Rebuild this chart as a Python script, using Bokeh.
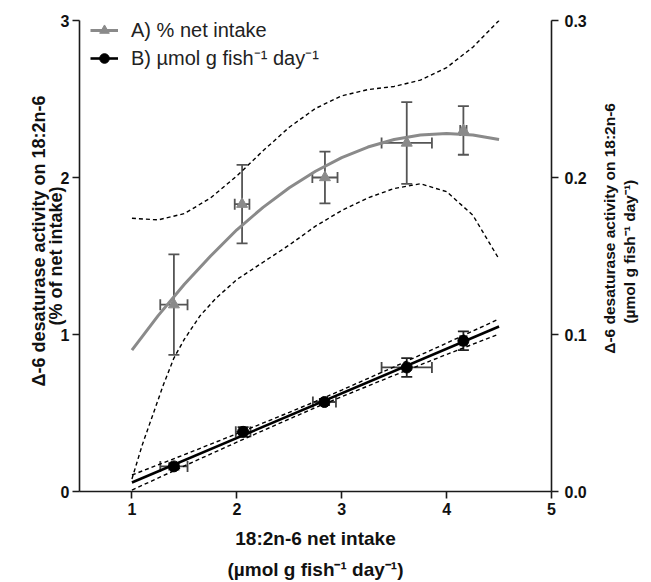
import math
from bokeh.plotting import figure
from bokeh.models import (Range1d, LinearAxis, FixedTicker, PrintfTickFormatter, Whisker,
                          TeeHead, ColumnDataSource, Legend, LegendItem)
from bokeh.embed import file_html
from bokeh.resources import INLINE

# ---------------- data ----------------
x_ticks = [1, 2, 3, 4, 5]
yl_ticks = [0, 1, 2, 3]
yr_ticks = [0.0, 0.1, 0.2, 0.3]

# A) % of net intake (left axis)
xA = [1.40, 2.05, 2.84, 3.62, 4.16]
xerrA = [0.13, 0.07, 0.12, 0.24, 0.03]
yA = [1.19, 1.83, 2.00, 2.22, 2.30]
yerrA = [0.32, 0.25, 0.165, 0.26, 0.155]

# fitted curve A and its 95% band
fitA_x = [1.0, 1.25, 1.5, 1.75, 2.0, 2.25, 2.5, 2.75, 3.0, 3.25, 3.5, 3.75, 4.0, 4.25, 4.5]
fitA_y = [0.90, 1.12, 1.32, 1.50, 1.667, 1.81, 1.935, 2.04, 2.127, 2.194, 2.242, 2.271, 2.281, 2.271, 2.242]
bandA_upper = [1.74, 1.73, 1.77, 1.87, 2.01, 2.17, 2.32, 2.44, 2.52, 2.56, 2.58, 2.62, 2.70, 2.83, 3.00]
bandA_lower_x = [1.0, 1.1, 1.2, 1.3, 1.4, 1.5, 1.65, 1.8, 2.0, 2.25, 2.5, 2.75, 3.0, 3.25, 3.5,
                 3.75, 4.0, 4.25, 4.5]
bandA_lower = [0.08, 0.30, 0.49, 0.68, 0.85, 0.97, 1.12, 1.23, 1.35, 1.46, 1.57, 1.69, 1.79, 1.87,
               1.93, 1.96, 1.91, 1.76, 1.48]

# B) umol g fish-1 day-1 (right axis)
xB = [1.40, 2.06, 2.835, 3.62, 4.16]
xerrB = [0.13, 0.07, 0.11, 0.24, 0.03]
yB = [0.016, 0.038, 0.057, 0.079, 0.096]
yerrB = [0.002, 0.003, 0.002, 0.006, 0.006]

fitB_x = [1.0, 4.5]
fitB_y = [0.0057, 0.1051]
bandB_x = [1.0, 1.5, 2.0, 2.5, 2.75, 3.0, 3.5, 4.0, 4.5]
bandB_upper = [0.0105, 0.0235, 0.0368, 0.0504, 0.0574, 0.0646, 0.0794, 0.0945, 0.1099]
bandB_lower = [0.0009, 0.0163, 0.0314, 0.0462, 0.0534, 0.0604, 0.0740, 0.0873, 0.1003]

label_A = "A) % net intake"
label_B = "B) \u00b5mol g fish\u207b\u00b9 day\u207b\u00b9"
xlabel1 = "18:2n-6 net intake"
xlabel2 = "(\u00b5mol g fish\u207b\u00b9 day\u207b\u00b9)"
ylabel1 = "\u0394-6 desaturase activity on 18:2n-6"
ylabel2 = "(% of net intake)"
rlabel2 = "(\u00b5mol g fish\u207b\u00b9 day\u207b\u00b9)"

# ---------------- figure ----------------
FONT = "Liberation Sans"
GRAY = "#8a8a8a"
AX = "#1a1a1a"
TXT = "#111111"
NB = "\u00a0"

p = figure(width=651, height=582, output_backend="svg", toolbar_location=None,
           x_range=Range1d(0.5, 5), y_range=Range1d(0, 3),
           min_border_left=79, min_border_right=100, min_border_top=20, min_border_bottom=90)
p.extra_y_ranges = {"r": Range1d(0, 0.3)}
p.grid.visible = False
p.outline_line_color = None
p.background_fill_color = "white"
p.border_fill_color = "white"

right = LinearAxis(y_range_name="r")
p.add_layout(right, "right")

for ax in [p.xaxis[0], p.yaxis[0], right]:
    ax.axis_line_color = AX
    ax.axis_line_width = 1.6
    ax.major_tick_line_color = AX
    ax.major_tick_line_width = 1.6
    ax.major_tick_in = 0
    ax.major_tick_out = 7
    ax.minor_tick_line_color = None
    ax.major_label_text_font = FONT
    ax.major_label_text_font_style = "bold"
    ax.major_label_text_font_size = "16px"
    ax.major_label_text_color = TXT
    ax.axis_label_text_font = FONT
    ax.axis_label_text_font_style = "bold"
    ax.axis_label_text_font_size = "18px"
    ax.axis_label_text_color = TXT

p.xaxis[0].ticker = FixedTicker(ticks=x_ticks)
p.xaxis[0].major_label_standoff = 4
p.xaxis[0].axis_label = xlabel1
p.xaxis[0].axis_label_standoff = 10
p.xaxis[0].axis_label_text_font_size = "19px"

p.yaxis[0].ticker = FixedTicker(ticks=yl_ticks)
p.yaxis[0].major_label_standoff = 3
p.yaxis[0].axis_label = ylabel2
p.yaxis[0].axis_label_standoff = -8

right.ticker = FixedTicker(ticks=yr_ticks)
right.formatter = PrintfTickFormatter(format="%.1f")
right.major_label_standoff = 6
right.axis_label_standoff = 20
right.axis_label_text_font_size = "15.5px"
right.axis_label_orientation = math.pi / 2


def title_axis(text, size, standoff, side, rng=None, orient=None):
    kw = {}
    if rng:
        kw["y_range_name"] = rng
    a = LinearAxis(ticker=FixedTicker(ticks=[]), axis_label=text, axis_label_standoff=standoff, **kw)
    a.axis_line_color = None
    a.major_tick_line_color = None
    a.minor_tick_line_color = None
    a.major_tick_in = 0
    a.major_tick_out = 0
    a.minor_tick_in = 0
    a.minor_tick_out = 0
    a.major_label_standoff = 0
    a.axis_label_text_font = FONT
    a.axis_label_text_font_style = "bold"
    a.axis_label_text_font_size = size
    a.axis_label_text_color = TXT
    if orient is not None:
        a.axis_label_orientation = orient
    p.add_layout(a, side)
    return a

title_axis(xlabel2, "19px", 7, "below")
title_axis(NB * 6 + ylabel1, "18px", -6, "left")
right2 = title_axis(rlabel2, "15.5px", 0, "right", rng="r", orient=math.pi / 2)

# right-side titles read bottom-to-top; anchor them at the axis start
try:
    right.axis_label_align = "start"
    right2.axis_label_align = "start"
    right.axis_label = NB * 32 + ylabel1
    right2.axis_label = NB * 39 + rlabel2
except AttributeError:
    right.axis_label = ylabel1

# ---------------- bands ----------------
DASH = "4 3"
p.line(fitA_x, bandA_upper, line_color="black", line_width=1.4, line_dash=DASH)
p.line(bandA_lower_x, bandA_lower, line_color="black", line_width=1.4, line_dash=DASH)
p.line(bandB_x, bandB_upper, line_color="black", line_width=1.4, line_dash=DASH, y_range_name="r")
p.line(bandB_x, bandB_lower, line_color="black", line_width=1.4, line_dash=DASH, y_range_name="r")

# ---------------- fits ----------------
fitA = p.line(fitA_x, fitA_y, line_color=GRAY, line_width=3)
fitB = p.line(fitB_x, fitB_y, line_color="black", line_width=2.6, y_range_name="r")

# ---------------- error bars ----------------
srcA = ColumnDataSource(dict(
    x=xA, y=yA,
    yu=[a + b for a, b in zip(yA, yerrA)], yl=[a - b for a, b in zip(yA, yerrA)],
    xu=[a + b for a, b in zip(xA, xerrA)], xl=[a - b for a, b in zip(xA, xerrA)]))
srcB = ColumnDataSource(dict(
    x=xB, y=yB,
    yu=[a + b for a, b in zip(yB, yerrB)], yl=[a - b for a, b in zip(yB, yerrB)],
    xu=[a + b for a, b in zip(xB, xerrB)], xl=[a - b for a, b in zip(xB, xerrB)]))


def whisk(src, dim, color, rng=None):
    kw = {}
    if rng:
        kw["y_range_name"] = rng
    if dim == "height":
        w = Whisker(base="x", upper="yu", lower="yl", dimension="height", source=src, **kw)
    else:
        w = Whisker(base="y", upper="xu", lower="xl", dimension="width", source=src, **kw)
    w.line_color = color
    w.line_width = 1.8
    w.upper_head = TeeHead(size=11, line_color=color, line_width=1.8)
    w.lower_head = TeeHead(size=11, line_color=color, line_width=1.8)
    p.add_layout(w)

whisk(srcA, "height", "#555555")
whisk(srcA, "width", "#555555")
whisk(srcB, "height", "#222222", "r")
whisk(srcB, "width", "#444444", "r")

# ---------------- markers ----------------
mA = p.scatter("x", "y", source=srcA, marker="triangle", size=11, fill_color=GRAY, line_color=GRAY)
mB = p.scatter("x", "y", source=srcB, marker="circle", size=11, fill_color="black",
               line_color="black", y_range_name="r")

# ---------------- legend ----------------
legend = Legend(items=[LegendItem(label=label_A, renderers=[fitA, mA]),
                       LegendItem(label=label_B, renderers=[fitB, mB])],
                location=(11, 420))
legend.label_text_font = FONT
legend.label_text_font_size = "20px"
legend.label_text_color = "#222222"
legend.glyph_width = 28
legend.glyph_height = 24
legend.label_height = 24
legend.label_standoff = 13
legend.spacing = 2
legend.padding = 0
legend.margin = 0
legend.background_fill_alpha = 0
legend.border_line_color = None
p.add_layout(legend)

open("out.html", "w").write(file_html(p, INLINE))
